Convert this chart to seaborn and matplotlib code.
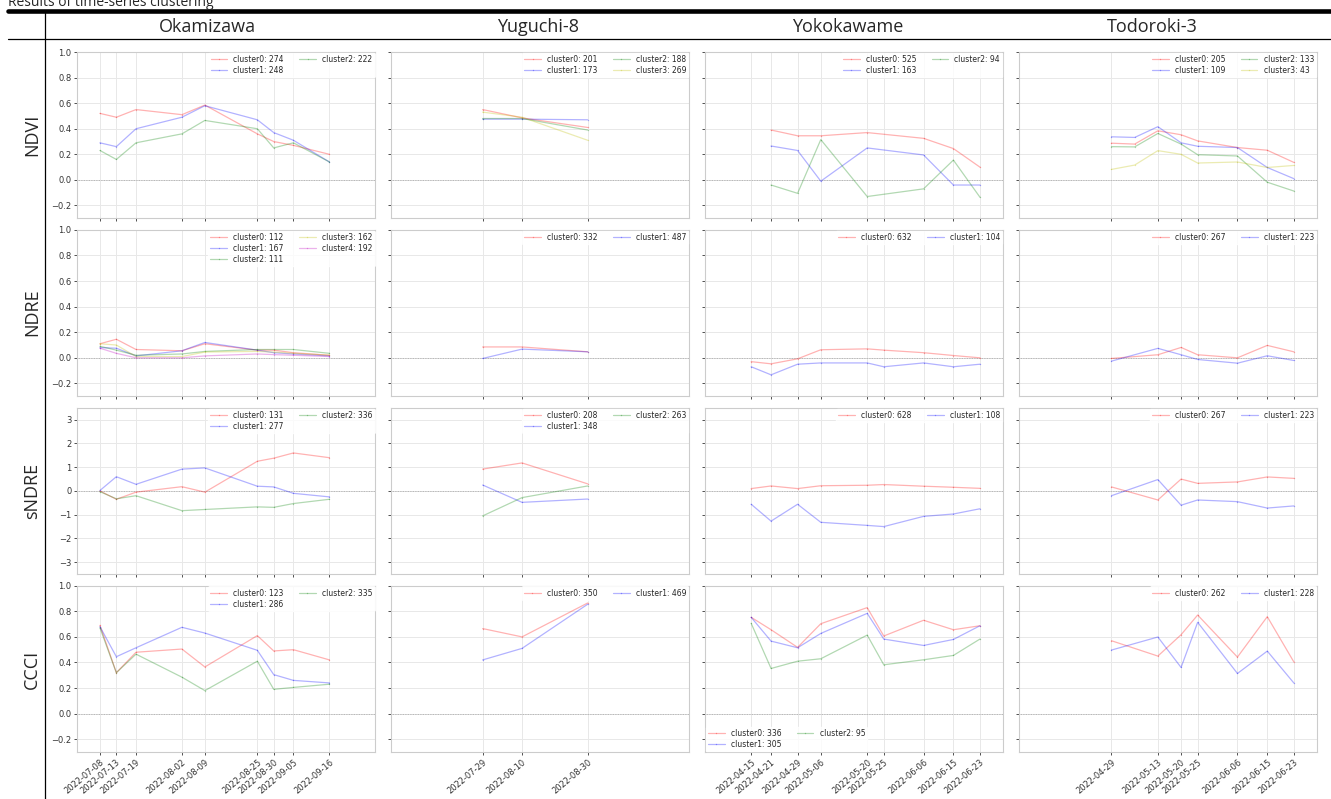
import pandas as pd
import matplotlib.pyplot as plt
import matplotlib.dates as mdates
from matplotlib.lines import Line2D
import seaborn as sns

# --- dates (x ticks follow the CCCI dates of each site) ---
oka_dates = ["2022-07-08", "2022-07-13", "2022-07-19", "2022-08-02", "2022-08-09",
             "2022-08-25", "2022-08-30", "2022-09-05", "2022-09-16"]
yug_dates = ["2022-07-29", "2022-08-10", "2022-08-30"]
yok_dates = ["2022-04-15", "2022-04-21", "2022-04-29", "2022-05-06", "2022-05-20",
             "2022-05-25", "2022-06-06", "2022-06-15", "2022-06-23"]
yok_ndvi_dates = ["2022-04-21", "2022-04-29", "2022-05-06", "2022-05-20",
                  "2022-06-06", "2022-06-15", "2022-06-23"]
tod_dates = ["2022-04-29", "2022-05-13", "2022-05-20", "2022-05-25",
             "2022-06-06", "2022-06-15", "2022-06-23"]
tod_ndvi_dates = ["2022-04-29", "2022-05-06", "2022-05-13", "2022-05-20", "2022-05-25",
                  "2022-06-06", "2022-06-15", "2022-06-23"]

sites = ["Okamizawa", "Yuguchi-8", "Yokokawame", "Todoroki-3"]
indices = ["NDVI", "NDRE", "sNDRE", "CCCI"]

# --- cluster mean series ---
oka_ndvi = {
    "cluster0: 274": [0.52, 0.49, 0.55, 0.51, 0.585, 0.36, 0.30, 0.27, 0.20],
    "cluster1: 248": [0.29, 0.26, 0.40, 0.49, 0.58, 0.47, 0.37, 0.31, 0.14],
    "cluster2: 222": [0.23, 0.16, 0.29, 0.36, 0.465, 0.40, 0.25, 0.29, 0.14],
}
oka_ndre = {
    "cluster0: 112": [0.11, 0.145, 0.065, 0.055, 0.11, 0.06, 0.06, 0.04, 0.02],
    "cluster1: 167": [0.08, 0.075, 0.015, 0.055, 0.12, 0.06, 0.04, 0.03, 0.015],
    "cluster2: 111": [0.09, 0.06, 0.02, 0.03, 0.05, 0.065, 0.065, 0.065, 0.035],
    "cluster3: 162": [0.11, 0.10, 0.01, 0.01, 0.045, 0.05, 0.045, 0.035, 0.02],
    "cluster4: 192": [0.075, 0.035, 0.0, 0.0, 0.015, 0.03, 0.025, 0.02, 0.01],
}
oka_sndre = {
    "cluster0: 131": [0.0, -0.35, -0.05, 0.18, -0.05, 1.25, 1.38, 1.6, 1.4],
    "cluster1: 277": [0.02, 0.6, 0.28, 0.92, 0.97, 0.2, 0.17, -0.1, -0.25],
    "cluster2: 336": [-0.03, -0.33, -0.2, -0.83, -0.78, -0.67, -0.69, -0.53, -0.35],
}
oka_ccci = {
    "cluster0: 123": [0.69, 0.32, 0.48, 0.505, 0.365, 0.61, 0.49, 0.50, 0.42],
    "cluster1: 286": [0.68, 0.445, 0.515, 0.675, 0.63, 0.495, 0.305, 0.26, 0.24],
    "cluster2: 335": [0.67, 0.32, 0.465, 0.285, 0.18, 0.41, 0.19, 0.205, 0.23],
}

yug_ndvi = {
    "cluster0: 201": [0.55, 0.485, 0.41],
    "cluster1: 173": [0.475, 0.475, 0.47],
    "cluster2: 188": [0.48, 0.48, 0.39],
    "cluster3: 269": [0.53, 0.49, 0.31],
}
yug_ndre = {
    "cluster0: 332": [0.085, 0.085, 0.047],
    "cluster1: 487": [-0.005, 0.068, 0.047],
}
yug_sndre = {
    "cluster0: 208": [0.92, 1.18, 0.30],
    "cluster1: 348": [0.25, -0.48, -0.34],
    "cluster2: 263": [-1.05, -0.28, 0.21],
}
yug_ccci = {
    "cluster0: 350": [0.665, 0.60, 0.865],
    "cluster1: 469": [0.42, 0.51, 0.855],
}

yok_ndvi = {
    "cluster0: 525": [0.39, 0.345, 0.345, 0.37, 0.325, 0.245, 0.10],
    "cluster1: 163": [0.265, 0.23, -0.01, 0.25, 0.195, -0.04, -0.04],
    "cluster2: 94": [-0.04, -0.105, 0.315, -0.13, -0.07, 0.155, -0.135],
}
yok_ndre = {
    "cluster0: 632": [-0.03, -0.047, -0.008, 0.063, 0.07, 0.06, 0.04, 0.018, 0.0],
    "cluster1: 104": [-0.07, -0.133, -0.05, -0.04, -0.04, -0.07, -0.04, -0.07, -0.05],
}
yok_sndre = {
    "cluster0: 628": [0.10, 0.21, 0.10, 0.22, 0.24, 0.27, 0.20, 0.155, 0.11],
    "cluster1: 108": [-0.56, -1.27, -0.56, -1.32, -1.45, -1.50, -1.07, -0.97, -0.75],
}
yok_ccci = {
    "cluster0: 336": [0.753, 0.656, 0.518, 0.703, 0.829, 0.607, 0.73, 0.656, 0.687],
    "cluster1: 305": [0.753, 0.567, 0.515, 0.627, 0.784, 0.583, 0.533, 0.58, 0.687],
    "cluster2: 95": [0.706, 0.353, 0.41, 0.429, 0.614, 0.382, 0.421, 0.455, 0.583],
}

tod_ndvi = {
    "cluster0: 205": [0.287, 0.28, 0.384, 0.353, 0.305, 0.253, 0.232, 0.137],
    "cluster1: 109": [0.337, 0.332, 0.416, 0.29, 0.263, 0.253, 0.097, 0.01],
    "cluster2: 133": [0.26, 0.258, 0.363, 0.28, 0.197, 0.187, -0.018, -0.087],
    "cluster3: 43": [0.082, 0.116, 0.229, 0.20, 0.132, 0.14, 0.097, 0.113],
}
tod_ndre = {
    "cluster0: 267": [-0.005, 0.024, 0.081, 0.024, 0.0, 0.097, 0.047],
    "cluster1: 223": [-0.026, 0.074, 0.024, -0.013, -0.042, 0.016, -0.021],
}
tod_sndre = {
    "cluster0: 267": [0.17, -0.38, 0.50, 0.32, 0.38, 0.59, 0.53],
    "cluster1: 223": [-0.20, 0.48, -0.60, -0.38, -0.45, -0.72, -0.63],
}
tod_ccci = {
    "cluster0: 262": [0.57, 0.45, 0.617, 0.771, 0.442, 0.758, 0.405],
    "cluster1: 228": [0.497, 0.599, 0.361, 0.714, 0.314, 0.489, 0.24],
}

cluster_colors = ["r", "b", "g", "y", "m"]

# (dates, series, legend loc) per row/col
panels = [
    [(oka_dates, oka_ndvi, "upper right"), (yug_dates, yug_ndvi, "upper right"),
     (yok_ndvi_dates, yok_ndvi, "upper right"), (tod_ndvi_dates, tod_ndvi, "upper right")],
    [(oka_dates, oka_ndre, "upper right"), (yug_dates, yug_ndre, "upper right"),
     (yok_dates, yok_ndre, "upper right"), (tod_dates, tod_ndre, "upper right")],
    [(oka_dates, oka_sndre, "upper right"), (yug_dates, yug_sndre, "upper right"),
     (yok_dates, yok_sndre, "upper right"), (tod_dates, tod_sndre, "upper right")],
    [(oka_dates, oka_ccci, "upper right"), (yug_dates, yug_ccci, "upper right"),
     (yok_dates, yok_ccci, "lower left"), (tod_dates, tod_ccci, "upper right")],
]
tick_dates = [oka_dates, yug_dates, yok_dates, tod_dates]
col_xlim = [("2022-07-01", "2022-09-30"), ("2022-07-01", "2022-09-30"),
            ("2022-04-01", "2022-06-30"), ("2022-04-01", "2022-06-30")]

sns.set_style("whitegrid", {
    "axes.edgecolor": "#cccccc",
    "grid.color": "#e8e8e8",
    "xtick.bottom": True,
    "ytick.left": True,
    "xtick.color": "#333333",
    "ytick.color": "#333333",
})
plt.rcParams.update({
    "xtick.labelsize": 6,
    "ytick.labelsize": 6,
    "xtick.major.size": 2.5,
    "ytick.major.size": 2.5,
    "xtick.major.width": 0.6,
    "ytick.major.width": 0.6,
    "xtick.major.pad": 1.5,
    "ytick.major.pad": 1.5,
    "axes.linewidth": 0.8,
    "grid.linewidth": 0.7,
})

W, H = 1331, 799
fig = plt.figure(figsize=(W / 100, H / 100), dpi=100)
axes = fig.subplots(4, 4, sharex="col", sharey="row")
fig.subplots_adjust(left=77 / W, right=1317 / W, top=1 - 52 / H, bottom=1 - 752 / H,
                    wspace=0.052, hspace=0.07)


def draw(ax, dates, series, loc):
    rows = []
    for name, vals in series.items():
        for d, v in zip(dates, vals):
            rows.append({"date": pd.Timestamp(d), "value": v, "cluster": name})
    df = pd.DataFrame(rows)
    pal = {name: cluster_colors[int(name[7])] for name in series}
    sns.lineplot(data=df, x="date", y="value", hue="cluster", palette=pal,
                 marker=".", markersize=2, mew=0, linewidth=0.9, alpha=0.3, ax=ax)
    ax.axhline(0, color="0.65", linestyle=(0, (1, 1)), linewidth=0.6, zorder=1)
    sns.move_legend(ax, loc, ncol=2, fontsize=5.5, title=None, frameon=True,
                    borderpad=0.3, labelspacing=0.25, handlelength=2.2,
                    columnspacing=2.0, borderaxespad=0.1, edgecolor="white",
                    framealpha=0.8)
    ax.set_xlabel("")
    ax.set_ylabel("")


for r in range(4):
    for c in range(4):
        dates, series, loc = panels[r][c]
        draw(axes[r, c], dates, series, loc)

for r in range(4):
    if indices[r] == "sNDRE":
        axes[r, 0].set_ylim(-3.5, 3.5)
        axes[r, 0].set_yticks([-3, -2, -1, 0, 1, 2, 3])
    else:
        axes[r, 0].set_ylim(-0.3, 1.0)
        axes[r, 0].set_yticks([-0.2, 0.0, 0.2, 0.4, 0.6, 0.8, 1.0])

for c in range(4):
    ax = axes[3, c]
    ax.set_xlim(pd.Timestamp(col_xlim[c][0]), pd.Timestamp(col_xlim[c][1]))
    ax.set_xticks(pd.to_datetime(tick_dates[c]))
    ax.xaxis.set_major_formatter(mdates.DateFormatter("%Y-%m-%d"))
    plt.setp(ax.get_xticklabels(), rotation=40, ha="right", rotation_mode="anchor")

# table-like frame around the grid
fig.add_artist(Line2D([8 / W, 1], [1 - 10.5 / H] * 2, transform=fig.transFigure,
                      color="black", linewidth=3.3))
fig.add_artist(Line2D([8 / W, 1], [1 - 38.7 / H] * 2, transform=fig.transFigure,
                      color="black", linewidth=0.9))
fig.add_artist(Line2D([45.3 / W] * 2, [1 - 13 / H, 0], transform=fig.transFigure,
                      color="black", linewidth=0.9))

fig.text(8 / W, 1 - 6 / H, "Results of time-series clustering", ha="left",
         va="baseline", fontsize=10, family="Open Sans")
for name, x in zip(sites, [207, 538, 848, 1152]):
    fig.text(x / W, 1 - 27 / H, name, ha="center", va="center", fontsize=13,
             family="Open Sans")
for name, y in zip(indices, [134.5, 312.5, 490.5, 669]):
    fig.text(32 / W, 1 - y / H, name, ha="center", va="center", rotation=90,
             fontsize=13, family="Open Sans")

fig.savefig("out.png", dpi=100)
